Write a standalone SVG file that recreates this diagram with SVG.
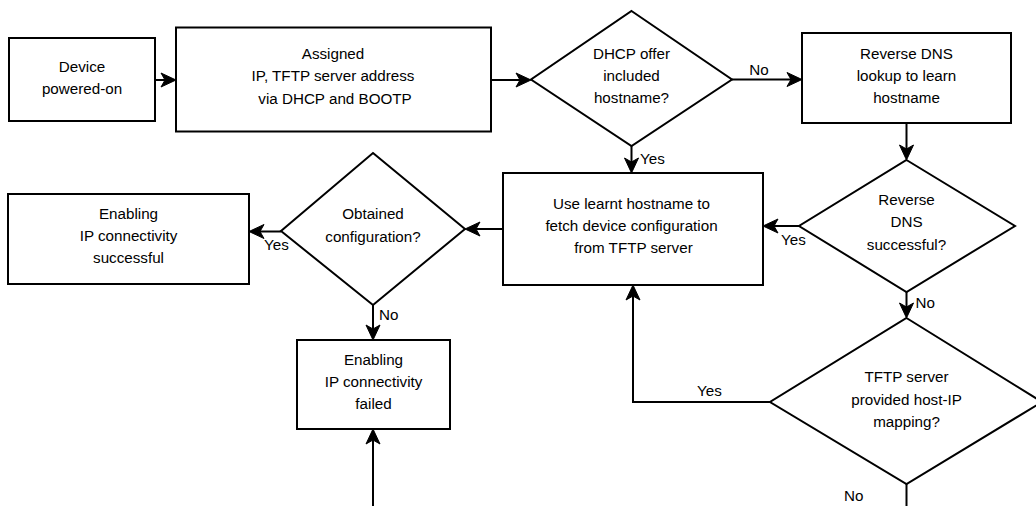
<svg xmlns="http://www.w3.org/2000/svg" width="1036" height="506" viewBox="0 0 1036 506">
  <style>
    .shape { fill: #ffffff; stroke: #000000; stroke-width: 2; }
    .edge { fill: none; stroke: #000000; stroke-width: 2; marker-end: url(#arrow); }
    .plain { fill: none; stroke: #000000; stroke-width: 2; }
    text { font-family: "Liberation Sans", Arial, Helvetica, sans-serif; font-size: 15.2px; fill: #000000; }
    .c { text-anchor: middle; }
  </style>
  <defs>
    <!-- classic notched arrowhead; the line stops at the notch, tip sits 11px further -->
    <marker id="arrow" markerUnits="userSpaceOnUse" viewBox="-5 -8 17 16" refX="0" refY="0" markerWidth="17" markerHeight="16" orient="auto" overflow="visible">
      <path d="M 11 0 L -4 -7 L 0 0 L -4 7 Z" fill="#000000" stroke="#000000" stroke-width="1" stroke-linejoin="miter"/>
    </marker>
  </defs>

  <g id="connectors">
    <line class="edge" x1="155" y1="80" x2="165" y2="80"/>
    <line class="edge" x1="491" y1="80" x2="520" y2="80"/>
    <line class="edge" x1="732" y1="79.5" x2="791" y2="79.5"/>
    <line class="edge" x1="631.5" y1="146" x2="631.5" y2="162"/>
    <line class="edge" x1="906.5" y1="123" x2="906.5" y2="149"/>
    <line class="edge" x1="799" y1="226" x2="774" y2="226"/>
    <line class="edge" x1="906.5" y1="292" x2="906.5" y2="307"/>
    <polyline class="edge" points="770,402 633,402 633,296"/>
    <line class="plain" x1="906.5" y1="484" x2="906.5" y2="510"/>
    <line class="edge" x1="503" y1="229" x2="476" y2="229"/>
    <line class="edge" x1="281" y1="231.5" x2="260" y2="231.5"/>
    <line class="edge" x1="373" y1="305" x2="373" y2="329"/>
    <line class="edge" x1="373" y1="510" x2="373" y2="440"/>
  </g>

  <g id="node-powered-on">
    <rect class="shape" x="9" y="38" width="146" height="83"/>
    <text class="c" x="82" y="71.5">Device</text>
    <text class="c" x="82" y="93.5">powered-on</text>
  </g>

  <g id="node-assigned">
    <rect class="shape" x="176" y="27.5" width="315" height="104"/>
    <text class="c" x="333" y="58.5">Assigned</text>
    <text class="c" x="333" y="81">IP, TFTP server address</text>
    <text class="c" x="335" y="103.5">via DHCP and BOOTP</text>
  </g>

  <g id="node-dhcp-hostname">
    <polygon class="shape" points="631.5,11 732,79.5 631.5,146 531,79.5"/>
    <text class="c" x="631.5" y="58.5">DHCP offer</text>
    <text class="c" x="631.5" y="81">included</text>
    <text class="c" x="631.5" y="103">hostname?</text>
  </g>

  <g id="node-reverse-lookup">
    <rect class="shape" x="802" y="33" width="209" height="90"/>
    <text class="c" x="906.5" y="58.5">Reverse DNS</text>
    <text class="c" x="906.5" y="81">lookup to learn</text>
    <text class="c" x="906.5" y="103">hostname</text>
  </g>

  <g id="node-fetch-config">
    <rect class="shape" x="503" y="173" width="260" height="112"/>
    <text class="c" x="631.5" y="208.5">Use learnt hostname to</text>
    <text class="c" x="631.5" y="231">fetch device configuration</text>
    <text class="c" x="633.5" y="253">from TFTP server</text>
  </g>

  <g id="node-reverse-ok">
    <polygon class="shape" points="906.5,160 1015,226 906.5,292 799,226"/>
    <text class="c" x="906.5" y="204.5">Reverse</text>
    <text class="c" x="906.5" y="226.5">DNS</text>
    <text class="c" x="906.5" y="249.5">successful?</text>
  </g>

  <g id="node-host-ip-mapping">
    <polygon class="shape" points="906.5,318 1042,402 906.5,484 770,402"/>
    <text class="c" x="906.5" y="382">TFTP server</text>
    <text class="c" x="906.5" y="404.5">provided host-IP</text>
    <text class="c" x="906.5" y="426.5">mapping?</text>
  </g>

  <g id="node-obtained-config">
    <polygon class="shape" points="373,153 465,229 373,305 281,231"/>
    <text class="c" x="373" y="219">Obtained</text>
    <text class="c" x="373" y="241.5">configuration?</text>
  </g>

  <g id="node-success">
    <rect class="shape" x="8" y="194" width="241" height="90"/>
    <text class="c" x="128.5" y="218.5">Enabling</text>
    <text class="c" x="128.5" y="241">IP connectivity</text>
    <text class="c" x="128.5" y="263">successful</text>
  </g>

  <g id="node-failed">
    <rect class="shape" x="297" y="340" width="153" height="89"/>
    <text class="c" x="373.5" y="364.5">Enabling</text>
    <text class="c" x="373.5" y="387">IP connectivity</text>
    <text class="c" x="373.5" y="409">failed</text>
  </g>

  <g id="edge-labels">
    <text class="c" x="759" y="75">No</text>
    <text x="640" y="164">Yes</text>
    <text x="781" y="244.5">Yes</text>
    <text x="915.5" y="307.5">No</text>
    <text x="697" y="396">Yes</text>
    <text x="844" y="501">No</text>
    <text x="264" y="250">Yes</text>
    <text x="379" y="320">No</text>
  </g>
</svg>
